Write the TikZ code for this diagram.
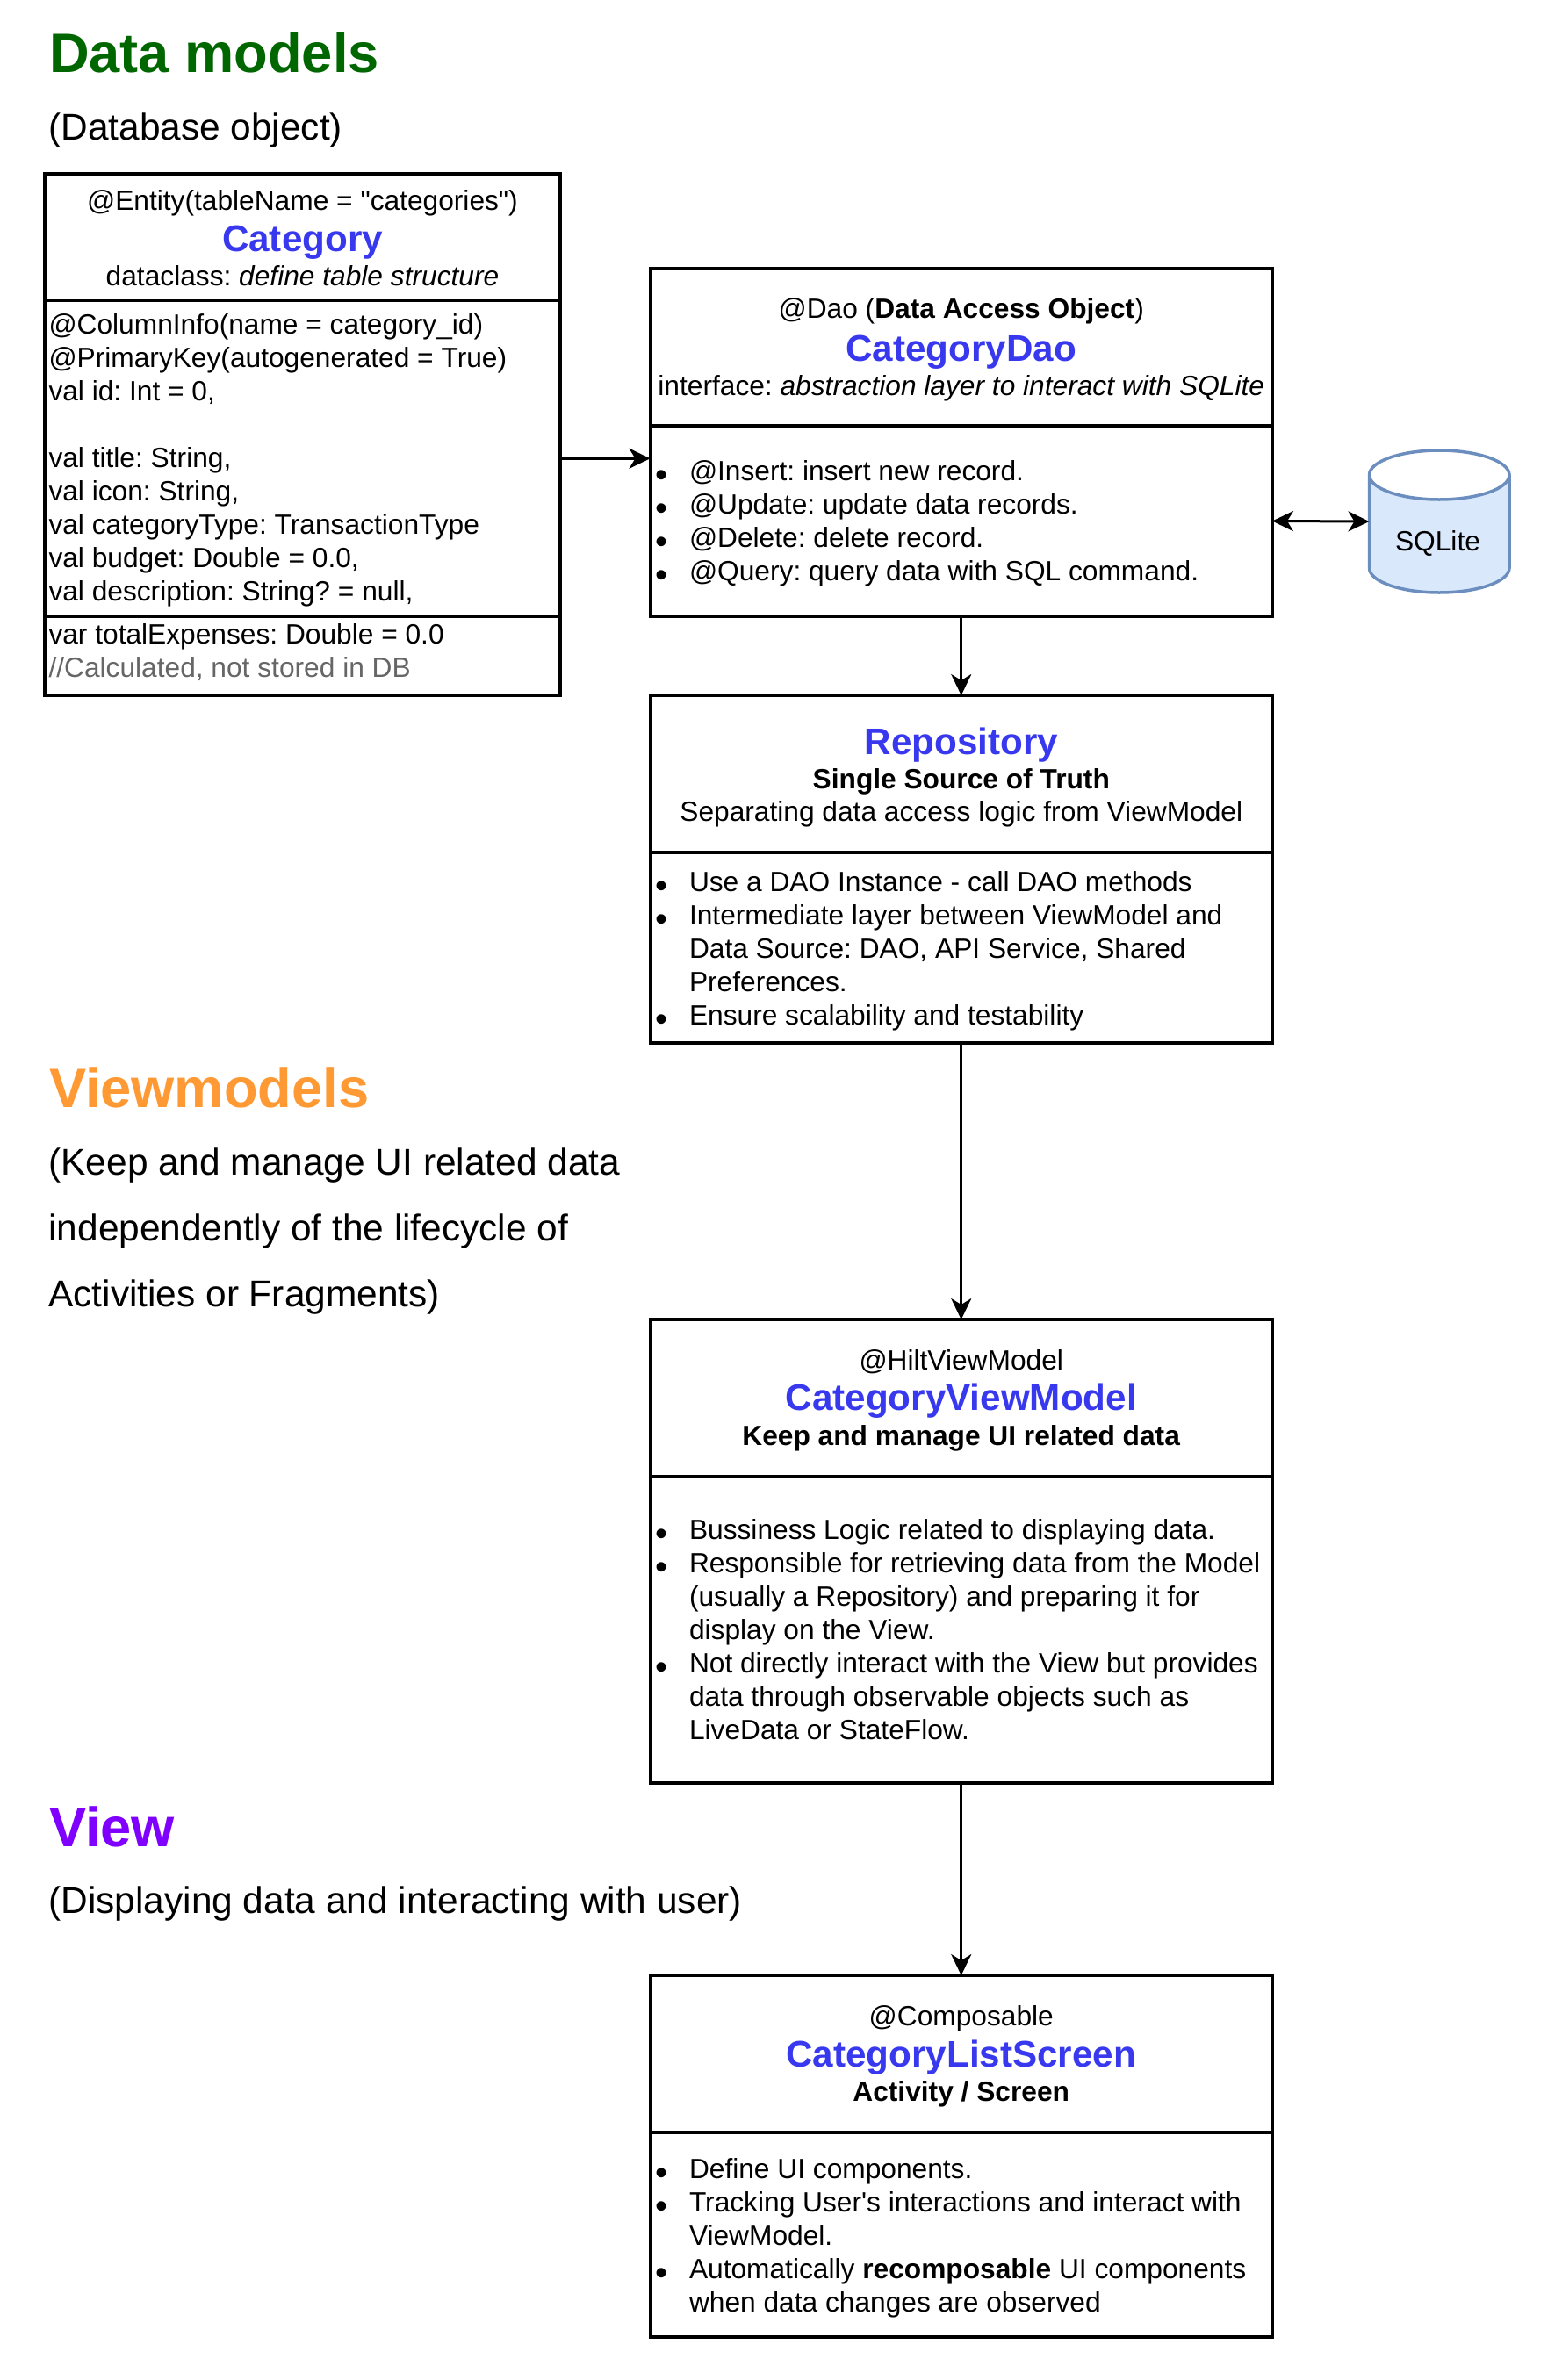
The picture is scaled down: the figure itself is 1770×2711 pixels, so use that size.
\documentclass[tikz,border=0pt]{standalone}
\usepackage{fontspec}
\setmainfont{Liberation Sans}[Ligatures=TeXOff]
\usetikzlibrary{arrows.meta}
\definecolor{nameblue}{HTML}{3838EE}
\definecolor{datagreen}{HTML}{006600}
\definecolor{vmorange}{HTML}{FF9933}
\definecolor{viewpurple}{HTML}{7F00FF}
\definecolor{cmtgray}{HTML}{666666}
\definecolor{cylfill}{HTML}{DAE8FC}
\definecolor{cylline}{HTML}{6C8EBF}
\frenchspacing
\newcommand\topstrut{\rule{0pt}{31pt}}
\newcommand\itemdot{\leavevmode\llap{\raisebox{-7pt}{\fontsize{40}{38}\selectfont\textbullet}\hspace*{25pt}}}
\newcommand\classname[1]{{\fontsize{42.2}{38}\selectfont\bfseries\color{nameblue}#1}}
\tikzset{
  part/.style={draw=black,line width=3.2pt,rectangle,inner sep=0pt,outer sep=0pt,anchor=north west},
  body/.style={inner sep=0pt,outer sep=0pt,anchor=north west,align=left,font=\fontsize{31.7}{38}\selectfont},
  head/.style={inner sep=0pt,outer sep=0pt,anchor=north,align=center,font=\fontsize{31.7}{38}\selectfont},
  title/.style={inner sep=0pt,outer sep=0pt,anchor=base west,font=\fontsize{63.2}{70}\selectfont\bfseries},
  sub/.style={inner sep=0pt,outer sep=0pt,anchor=north west,align=left,font=\fontsize{42.4}{75.2}\selectfont},
  conn/.style={line width=3pt,draw=black,-{Stealth[length=24pt,width=23pt,inset=7pt]}},
  connboth/.style={line width=3pt,draw=black,{Stealth[length=24pt,width=23pt,inset=7pt]}-{Stealth[length=24pt,width=23pt,inset=7pt]}},
}
\begin{document}
\begin{tikzpicture}[x=1pt,y=-1pt]
\useasboundingbox (0,0) rectangle (1770,2711);
% section titles
\node[title,text=datagreen] (t1) at (56,83) {Data models};
\node[sub] (s1) at (55.5,128.5) {\topstrut(Database object)};
\node[title,text=vmorange] (t2) at (56,1261) {Viewmodels};
\node[sub] (s2) at (55.5,1307) {\topstrut(Keep and manage UI related data\\independently of the lifecycle of\\Activities or Fragments)};
\node[title,text=viewpurple] (t3) at (56,2103) {View};
\node[sub] (s3) at (55.5,2148.5) {\topstrut(Displaying data and interacting with user)};
% Category
\node[part,minimum width=587pt,minimum height=144.5pt] (catH) at (51,198) {};
\node[part,minimum width=587pt,minimum height=359.5pt] (catB) at (51,342.5) {};
\node[part,minimum width=587pt,minimum height=90pt] (catF) at (51,702) {};
\node[head] (catHt) at (344.5,208.5) {\topstrut @Entity(tableName = "categories")\\[9pt]\classname{Category}\\[1pt]dataclass: \textit{define table structure}};
\node[body] (catBt) at (55.5,349) {\topstrut @ColumnInfo(name = category\_id)\\@PrimaryKey(autogenerated = True)\\val id: Int = 0,\\ \\val title: String,\\val icon: String,\\val categoryType: TransactionType\\val budget: Double = 0.0,\\val description: String? = null,};
\node[body] (catFt) at (55.5,702) {\topstrut var totalExpenses: Double = 0.0\\\textcolor{cmtgray}{//Calculated, not stored in DB}};
% DAO
\node[part,minimum width=708.5pt,minimum height=179.5pt] (daoH) at (740.5,305.5) {};
\node[part,minimum width=708.5pt,minimum height=217pt] (daoB) at (740.5,485) {};
\node[head] (daoHt) at (1094.75,331) {\topstrut @Dao (\textbf{Data Access Object})\\[11pt]\classname{CategoryDao}\\[1pt]interface: \textit{abstraction layer to interact with SQLite}};
\node[body] (daoBt) at (785,516) {\topstrut\itemdot @Insert: insert new record.\\\itemdot @Update: update data records.\\\itemdot @Delete: delete record.\\\itemdot @Query: query data with SQL command.};
% SQLite
\path[fill=cylfill,draw=cylline,line width=3.5pt] (1559.5,541) arc[start angle=180,end angle=0,x radius=79.75,y radius=28] -- (1719,647) arc[start angle=0,end angle=180,x radius=79.75,y radius=28] -- cycle;
\draw[cylline,line width=3.5pt] (1559.5,541) arc[start angle=180,end angle=360,x radius=79.75,y radius=28];
\node[inner sep=0pt,outer sep=0pt,minimum width=159.5pt,minimum height=162pt] (sql) at (1639.25,594) {};
\node[inner sep=0pt,anchor=base,font=\fontsize{31.7}{38}\selectfont] (sqlt) at (1637.5,627) {SQLite};
% Repository
\node[part,minimum width=708.5pt,minimum height=179pt] (repoH) at (740.5,792) {};
\node[part,minimum width=708.5pt,minimum height=217pt] (repoB) at (740.5,971) {};
\node[head] (repoHt) at (1094.75,828.5) {\topstrut\classname{Repository}\\[1pt]\textbf{Single Source of Truth}\\[-1pt]Separating data access logic from ViewModel};
\node[body] (repoBt) at (785,984) {\topstrut\itemdot Use a DAO Instance - call DAO methods\\\itemdot Intermediate layer between ViewModel and\\Data Source: DAO, API Service, Shared\\Preferences.\\\itemdot Ensure scalability and testability};
% ViewModel
\node[part,minimum width=708.5pt,minimum height=179pt] (vmH) at (740.5,1503) {};
\node[part,minimum width=708.5pt,minimum height=349pt] (vmB) at (740.5,1682) {};
\node[head] (vmHt) at (1094.75,1529.5) {\topstrut @HiltViewModel\\[8pt]\classname{CategoryViewModel}\\[2pt]\textbf{Keep and manage UI related data}};
\node[body] (vmBt) at (785,1722) {\topstrut\itemdot Bussiness Logic related to displaying data.\\\itemdot Responsible for retrieving data from the Model\\(usually a Repository) and preparing it for\\display on the View.\\\itemdot Not directly interact with the View but provides\\data through observable objects such as\\LiveData or StateFlow.};
% Screen
\node[part,minimum width=708.5pt,minimum height=179pt] (scrH) at (740.5,2250) {};
\node[part,minimum width=708.5pt,minimum height=233pt] (scrB) at (740.5,2429) {};
\node[head] (scrHt) at (1094.75,2276.5) {\topstrut @Composable\\[9pt]\classname{CategoryListScreen}\\[1.2pt]\textbf{Activity / Screen}};
\node[body] (scrBt) at (785,2450) {\topstrut\itemdot Define UI components.\\\itemdot Tracking User's interactions and interact with\\ViewModel.\\\itemdot Automatically \textbf{recomposable} UI components\\when data changes are observed};
% connectors
\draw[conn] (catB.east) -- (catB.east -| daoB.west);
\draw[connboth] (daoB.east) -- (sql.west);
\draw[conn] (daoB.south) -- (repoH.north);
\draw[conn] (repoB.south) -- (vmH.north);
\draw[conn] (vmB.south) -- (scrH.north);
\end{tikzpicture}
\end{document}
